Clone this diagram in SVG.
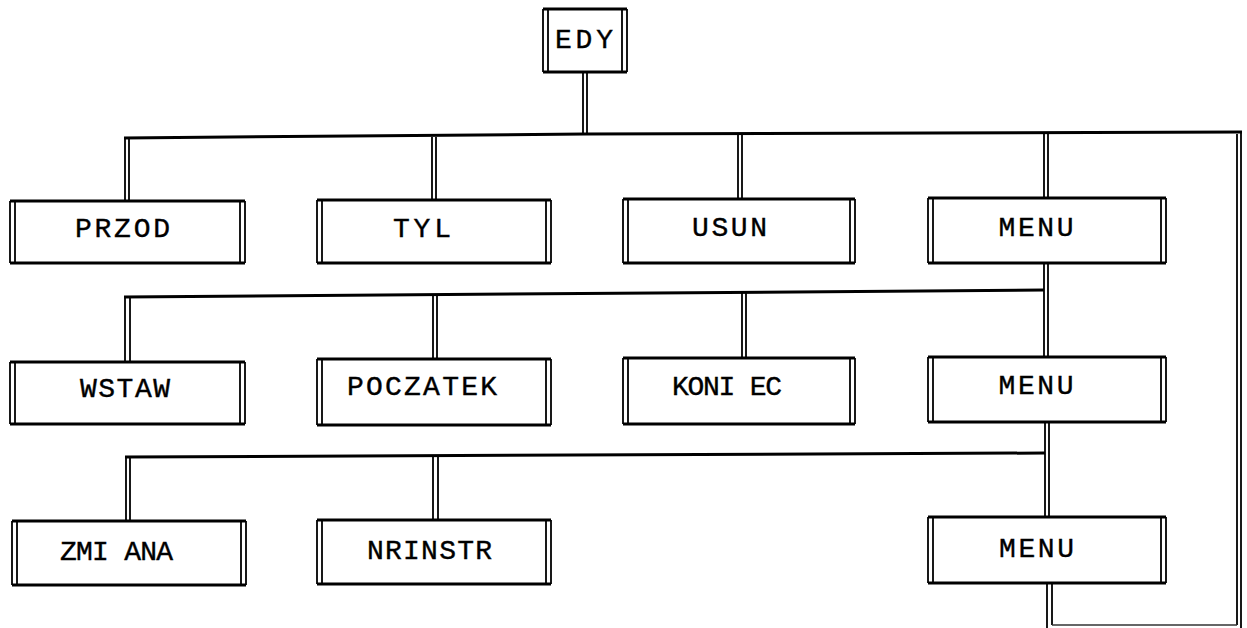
<svg xmlns="http://www.w3.org/2000/svg" width="1247" height="628" viewBox="0 0 1247 628">
<style>
.bg{fill:#fff;stroke:none}
.h{stroke:#000;stroke-width:3;fill:none}
.v{stroke:#000;stroke-width:1.8;fill:none}
.bus{stroke:#000;stroke-width:3;fill:none;stroke-linejoin:miter}
.dl{stroke:#000;stroke-width:1.8;fill:none}
.thin{stroke:#333;stroke-width:1.5;fill:none}
.t{font-family:"Liberation Mono","DejaVu Sans Mono",monospace;font-size:28px;fill:#000;stroke:#000;stroke-width:0.4;text-anchor:middle}
</style>
<rect width="1247" height="628" fill="#fff"/>
<g id="connectors">
<path class="dl" d="M583 72V135M587 72V135"/>
<path class="bus" d="M124 138L585 134L1242 132"/>
<path class="dl" d="M125 138V201M129 138V201M432 137V200M436 137V200M738 135V199M742 135V199M1044 133V198M1048 133V198"/>
<path class="dl" d="M1241 132V628M1237 134V625M1047 583V628M1052 583V625"/>
<path class="thin" d="M1052 625H1237"/>
<path class="dl" d="M1044 263V357M1048 263V357"/>
<path class="bus" d="M124 297L1044 290"/>
<path class="dl" d="M125 297V362M130 297V362M433 295V359M437 295V359M742 293V358M746 293V358"/>
<path class="dl" d="M1045 422V517M1049 422V517"/>
<path class="bus" d="M125 457L1045 453"/>
<path class="dl" d="M126 457V521M130 457V521M433 456V520M438 456V520"/>
</g>
<g id="edy">
<rect class="bg" x="543" y="9" width="84" height="63"/>
<path class="h" d="M543 9H627M543 72H627"/>
<path class="v" d="M543 9V72M548 9V72M622 9V72M627 9V72"/>
<text class="t" x="584" y="48" textLength="58" lengthAdjust="spacing">EDY</text>
</g>
<g id="przod">
<rect class="bg" x="10" y="201" width="235" height="62"/>
<path class="h" d="M10 201H245M10 263H245"/>
<path class="v" d="M10 201V263M15 201V263M240 201V263M245 201V263"/>
<text class="t" x="122.5" y="237" textLength="95" lengthAdjust="spacing">PRZOD</text>
</g>
<g id="tyl">
<rect class="bg" x="317" y="200" width="234" height="63"/>
<path class="h" d="M317 200H551M317 263H551"/>
<path class="v" d="M317 200V263M322 200V263M546 200V263M551 200V263"/>
<text class="t" x="422" y="237" textLength="58" lengthAdjust="spacing">TYL</text>
</g>
<g id="usun">
<rect class="bg" x="623" y="199" width="232" height="64"/>
<path class="h" d="M623 199H855M623 263H855"/>
<path class="v" d="M623 199V263M628 199V263M850 199V263M855 199V263"/>
<text class="t" x="729.5" y="236" textLength="75" lengthAdjust="spacing">USUN</text>
</g>
<g id="menu1">
<rect class="bg" x="928" y="198" width="238" height="65"/>
<path class="h" d="M928 198H1166M928 263H1166"/>
<path class="v" d="M928 198V263M933 198V263M1161 198V263M1166 198V263"/>
<text class="t" x="1036" y="236" textLength="75" lengthAdjust="spacing">MENU</text>
</g>
<g id="wstaw">
<rect class="bg" x="10" y="362" width="235" height="62"/>
<path class="h" d="M10 362H245M10 424H245"/>
<path class="v" d="M10 362V424M15 362V424M240 362V424M245 362V424"/>
<text class="t" x="125" y="397" textLength="90" lengthAdjust="spacing">WSTAW</text>
</g>
<g id="poczatek">
<rect class="bg" x="317" y="359" width="234" height="66"/>
<path class="h" d="M317 359H551M317 425H551"/>
<path class="v" d="M317 359V425M322 359V425M546 359V425M551 359V425"/>
<text class="t" x="422" y="395" textLength="150" lengthAdjust="spacing">POCZATEK</text>
</g>
<g id="koniec">
<rect class="bg" x="623" y="358" width="232" height="66"/>
<path class="h" d="M623 358H855M623 424H855"/>
<path class="v" d="M623 358V424M628 358V424M850 358V424M855 358V424"/>
<text class="t" x="727" y="395" textLength="110" lengthAdjust="spacing">KONI EC</text>
</g>
<g id="menu2">
<rect class="bg" x="928" y="357" width="238" height="65"/>
<path class="h" d="M928 357H1166M928 422H1166"/>
<path class="v" d="M928 357V422M933 357V422M1161 357V422M1166 357V422"/>
<text class="t" x="1036" y="394" textLength="75" lengthAdjust="spacing">MENU</text>
</g>
<g id="zmiana">
<rect class="bg" x="12" y="521" width="234" height="64"/>
<path class="h" d="M12 521H246M12 585H246"/>
<path class="v" d="M12 521V585M17 521V585M241 521V585M246 521V585"/>
<text class="t" x="116.5" y="560" textLength="113" lengthAdjust="spacing">ZMI ANA</text>
</g>
<g id="nrinstr">
<rect class="bg" x="317" y="520" width="234" height="64"/>
<path class="h" d="M317 520H551M317 584H551"/>
<path class="v" d="M317 520V584M322 520V584M546 520V584M551 520V584"/>
<text class="t" x="429.5" y="559" textLength="125" lengthAdjust="spacing">NRINSTR</text>
</g>
<g id="menu3">
<rect class="bg" x="928" y="517" width="238" height="66"/>
<path class="h" d="M928 517H1166M928 583H1166"/>
<path class="v" d="M928 517V583M933 517V583M1161 517V583M1166 517V583"/>
<text class="t" x="1036.5" y="557" textLength="75" lengthAdjust="spacing">MENU</text>
</g>
</svg>
